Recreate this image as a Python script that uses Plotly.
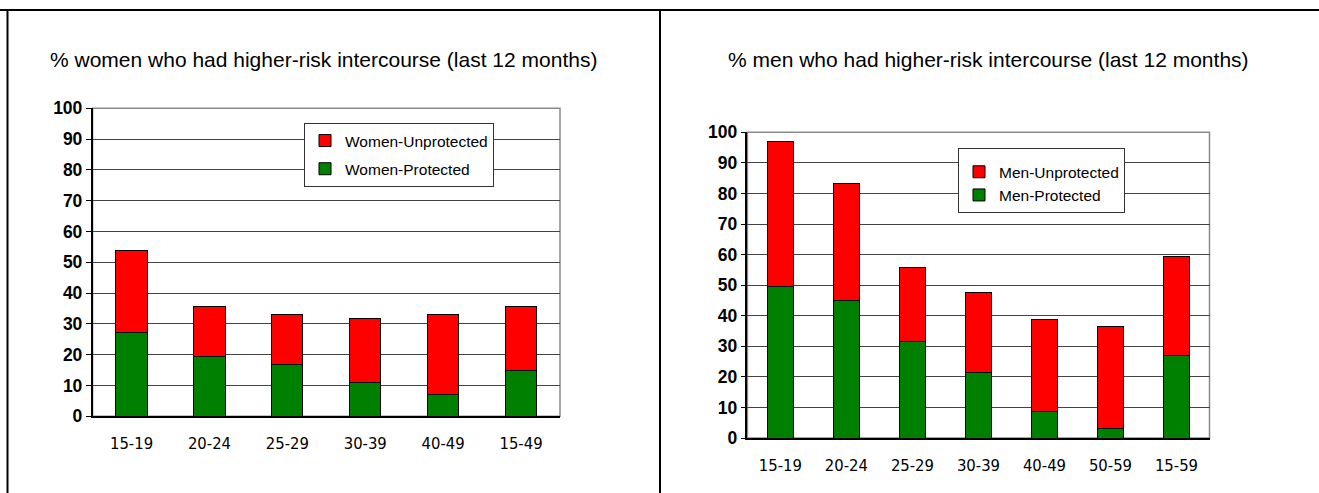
import plotly.graph_objects as go

W, H = 1319, 493

# data
WOMEN_AGES = ["15-19", "20-24", "25-29", "30-39", "40-49", "15-49"]
WOMEN_PROTECTED = [27.3, 19.5, 16.8, 10.9, 7.1, 14.9]
WOMEN_UNPROTECTED = [26.6, 16.0, 16.4, 20.8, 25.9, 20.7]

MEN_AGES = ["15-19", "20-24", "25-29", "30-39", "40-49", "50-59", "15-59"]
MEN_PROTECTED = [49.7, 45.1, 31.7, 21.5, 8.6, 3.2, 27.0]
MEN_UNPROTECTED = [47.4, 38.2, 24.2, 26.2, 30.2, 33.2, 32.5]

TITLES = [
    "% women who had higher-risk intercourse (last 12 months)",
    "% men who had higher-risk intercourse (last 12 months)",
]

RED = "#ff0000"
GREEN = "#008000"
ARIAL = "Liberation Sans, Arial, sans-serif"
NARROW = "Liberation Sans Narrow, Arial Narrow, DejaVu Sans Condensed, Liberation Sans, sans-serif"


def fx(px):
    return px / W


def fy(px):
    return 1 - px / H


fig = go.Figure()

# --- women (left) ---
fig.add_trace(go.Bar(
    x=WOMEN_AGES, y=WOMEN_PROTECTED, name="Women-Protected",
    marker=dict(color=GREEN, line=dict(color="black", width=1)),
    xaxis="x", yaxis="y", legend="legend", legendgroup="wp", legendrank=2,
))
fig.add_trace(go.Bar(
    x=WOMEN_AGES, y=WOMEN_UNPROTECTED, name="Women-Unprotected",
    marker=dict(color=RED, line=dict(color="black", width=1)),
    xaxis="x", yaxis="y", legend="legend", legendgroup="wu", legendrank=1,
))

# --- men (right) ---
fig.add_trace(go.Bar(
    x=MEN_AGES, y=MEN_PROTECTED, name="Men-Protected",
    marker=dict(color=GREEN, line=dict(color="black", width=1)),
    xaxis="x2", yaxis="y2", legend="legend2",
))
fig.add_trace(go.Bar(
    x=MEN_AGES, y=MEN_UNPROTECTED, name="Men-Unprotected",
    marker=dict(color=RED, line=dict(color="black", width=1)),
    xaxis="x2", yaxis="y2", legend="legend2",
))

yaxis_common = dict(
    range=[0, 100], dtick=10, showgrid=True, gridcolor="#444444", gridwidth=1,
    showline=True, linecolor="black", linewidth=1.5,
    ticks="outside", ticklen=5, tickcolor="black",
    tickfont=dict(family=ARIAL, size=17.5, color="black", weight="bold"),
    zeroline=False, fixedrange=True, automargin=False,
)
xaxis_common = dict(
    showline=True, linecolor="black", linewidth=1.5, ticks="",
    tickfont=dict(family=NARROW, size=16.5, color="black"),
    ticklabelstandoff=11, showgrid=False, fixedrange=True, automargin=False,
)

legend_common = dict(
    bgcolor="white", bordercolor="#333333", borderwidth=1,
    font=dict(family=ARIAL, size=15.5, color="black"),
    xanchor="left", yanchor="top",
)

fig.update_layout(
    width=W, height=H,
    margin=dict(l=0, r=0, t=0, b=0, autoexpand=False),
    paper_bgcolor="white", plot_bgcolor="white",
    barmode="stack",
    xaxis=dict(domain=[fx(92.6), fx(560)], anchor="y", **xaxis_common),
    yaxis=dict(domain=[fy(416.3), fy(108.3)], anchor="x", **yaxis_common),
    xaxis2=dict(domain=[fx(747.4), fx(1209.5)], anchor="y2", **xaxis_common),
    yaxis2=dict(domain=[fy(438), fy(132.3)], anchor="x2", **yaxis_common),
    legend=dict(x=fx(304), y=fy(123), traceorder="grouped",
                tracegroupgap=5, **legend_common),
    legend2=dict(x=fx(958), y=fy(147.7), traceorder="reversed",
                 title=dict(text=" ", font=dict(size=5)), **legend_common),
    showlegend=True,
)
fig.update_layout(bargap=0.6)

# plot area frames (grey top/right edges)
for xr, yr in [("x domain", "y domain"), ("x2 domain", "y2 domain")]:
    fig.add_shape(type="rect", xref=xr, yref=yr, x0=0, x1=1, y0=0, y1=1,
                  line=dict(color="#8a8a8a", width=1.5), layer="below")

# panel borders
for x0, y0, x1, y1 in [(0, 10, 1319, 10), (7.5, 10, 7.5, 493), (660, 10, 660, 493)]:
    fig.add_shape(type="line", xref="paper", yref="paper",
                  x0=fx(x0), y0=fy(y0), x1=fx(x1), y1=fy(y1),
                  line=dict(color="black", width=2))

# panel titles
for text, left in zip(TITLES, [48, 725.5]):
    fig.add_annotation(text=text, xref="paper", yref="paper",
                       x=fx(left), y=fy(60), xanchor="left", yanchor="middle",
                       showarrow=False, font=dict(family=ARIAL, size=21, color="black"))

fig.write_html("out.html", config={"displayModeBar": False},
               post_script="document.body.style.margin='0';")
